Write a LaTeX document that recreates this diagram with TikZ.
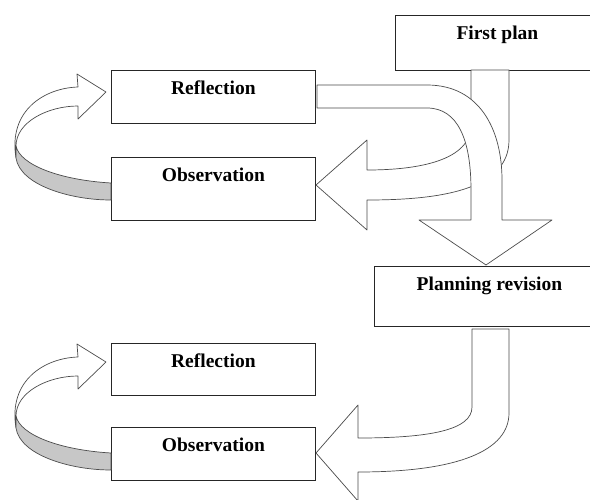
\documentclass[tikz,border=0pt]{standalone}
\usepackage{fontspec}
\setmainfont{Liberation Serif}
\tikzset{stage/.style={rectangle,draw=black!85,fill=white,line width=0.8pt,
inner sep=0pt,minimum width=204pt,text height=24pt,text depth=#1,
font=\bfseries\fontsize{19.5}{23}\selectfont}}
\tikzset{blockarrow/.style={draw=black!70,fill=white,line width=0.7pt,line join=round}}
\tikzset{ribbonside/.style={draw=black!70,fill=black!22,line width=0.7pt,line join=round}}

\begin{document}
\begin{tikzpicture}[x=1pt,y=-1pt]
    \useasboundingbox (0,0) rectangle (590,499);
    \clip (0,0) rectangle (590,499);
    \fill[white] (0,0) rectangle (590,499);

    % stages of the cycle
    \node[stage=31pt,anchor=north west] (plan) at (395,15) {First plan};
    \node[stage=29pt,anchor=north west] (refl1) at (111,70) {Reflection};
    \node[stage=39pt,anchor=north west] (obs1) at (111,157) {Observation};
    \node[stage=36pt,minimum width=230pt,anchor=north west] (revise) at (374,266) {Planning revision};
    \node[stage=28pt,anchor=north west] (refl2) at (111,343) {Reflection};
    \node[stage=29pt,anchor=north west] (obs2) at (111,427) {Observation};

    % first plan -> observation
    \draw[blockarrow] (471,70) -- (471,125) .. controls (471,160) and (420,170) .. (367,170)
        -- (367,140) -- (316,185) -- (367,230) -- (367,200)
        .. controls (440,200) and (509,190) .. (509,140) -- (509,70) -- cycle;

    % reflection -> planning revision
    \draw[blockarrow] (317,85) -- (427,85) .. controls (480,85) and (502,130) .. (502,180)
        -- (502,220) -- (552,220) -- (486,265) -- (419,220) -- (471,220) -- (471,190)
        .. controls (471,140) and (458,108) .. (427,108) -- (317,108) -- cycle;

    % planning revision -> observation
    \draw[blockarrow] (472,329) -- (472,407) .. controls (472,430) and (430,438) .. (358,438)
        -- (358,405) -- (316,453) -- (358,501) -- (358,472)
        .. controls (460,472) and (509,450) .. (509,413) -- (509,329) -- cycle;

    % observation -> reflection loops
    \foreach \dy in {0,270} {
        \begin{scope}[shift={(0,\dy)}]
            \draw[blockarrow] (16,158) .. controls (8,110) and (45,88) .. (78,87)
                -- (77,74) -- (106,92) -- (78,119) -- (78,106)
                .. controls (48,106) and (16,122) .. (16,146) -- cycle;
            \draw[ribbonside] (111,183) .. controls (60,180) and (20,165) .. (16,146)
                -- (16,158) .. controls (20,185) and (70,200) .. (111,200) -- cycle;
        \end{scope}
    }
\end{tikzpicture}
\end{document}
